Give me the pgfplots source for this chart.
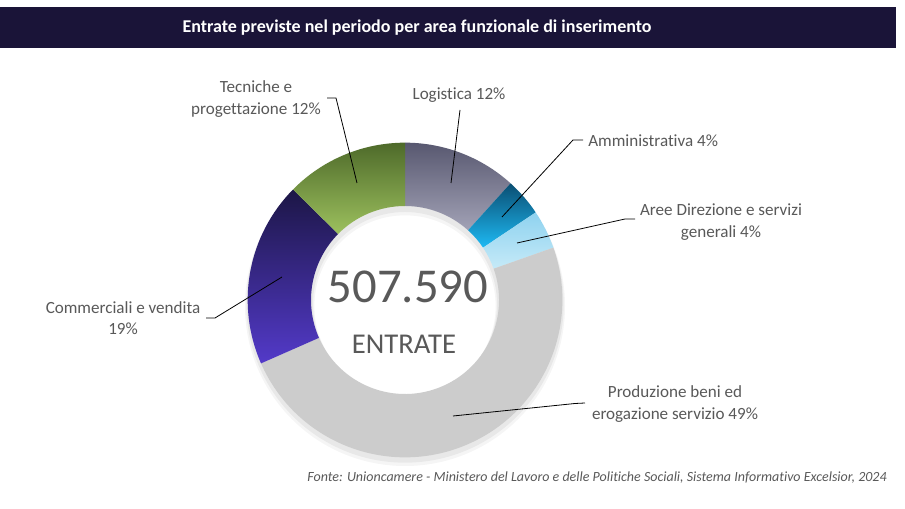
\documentclass[border=0pt]{standalone}
\usepackage{pgfplots}
\pgfplotsset{compat=1.18}
\usepackage{pgfplotstable}
\usepackage{fontspec}
\setmainfont{Carlito}[Ligatures=NoCommon]

\definecolor{titlebg}{HTML}{1A1438}
\definecolor{txt}{HTML}{595959}
\definecolor{logT}{HTML}{585870}
\definecolor{logB}{HTML}{A2A2B6}
\definecolor{ammT}{HTML}{0A4E72}
\definecolor{ammB}{HTML}{1EBAF4}
\definecolor{dirT}{HTML}{8ED2EF}
\definecolor{dirB}{HTML}{C6EAF8}
\definecolor{prod}{HTML}{CCCCCC}
\definecolor{comT}{HTML}{1C1646}
\definecolor{comB}{HTML}{533AC9}
\definecolor{tecT}{HTML}{4E6A2A}
\definecolor{tecB}{HTML}{9DC15E}

% share of each area, clockwise from 12 o'clock
\pgfplotstableread{
area value
Logistica 11.7
Amministrativa 3.9
Direzione 4.0
Produzione 48.8
Commerciali 19.0
Tecniche 12.6
}\slices

% cumulative angles (start/end of each slice)
\def\acc{90}%
\pgfplotsforeachungrouped \i in {0,...,5}{%
  \pgfplotstablegetelem{\i}{value}\of\slices%
  \pgfmathsetmacro\nxt{\acc-3.6*\pgfplotsretval}%
  \expandafter\xdef\csname sa\i\endcsname{\acc}%
  \expandafter\xdef\csname sb\i\endcsname{\nxt}%
  \xdef\acc{\nxt}%
}

\def\Ro{118pt}
\def\Ri{70.5pt}

\newcommand\ringslice[3]{% row, top colour, bottom colour
  \edef\sA{\csname sa#1\endcsname}\edef\sB{\csname sb#1\endcsname}%
  \edef\temp{\noexpand\shade[top color=#2,bottom color=#3]
    ([shift={(\sA:\Ro)}]C) arc[start angle=\sA,end angle=\sB,radius=\Ro]
    -- ([shift={(\sB:\Ri)}]C) arc[start angle=\sB,end angle=\sA,radius=\Ri] -- cycle;}%
  \temp}

\begin{document}
\begin{tikzpicture}
\begin{axis}[
    x=0.75pt, y=0.75pt,
    xmin=0, xmax=905, ymin=0, ymax=509,
    enlargelimits=false,
    hide axis, clip=false, scale only axis,
]
\coordinate (BL) at (axis cs:0,0);
\coordinate (TR) at (axis cs:905,509);
\fill[white] (axis cs:0,0) rectangle (axis cs:905,509);
% title bar
\fill[titlebg] (axis cs:0,461) rectangle (axis cs:896,502);
\node[text=white, font=\fontsize{13.5}{16}\selectfont\bfseries] at (axis cs:417,481)
  {Entrate previste nel periodo per area funzionale di inserimento};

\coordinate (C) at (axis cs:405,209);
% soft shadow
\fill[black, opacity=0.04, even odd rule] ([yshift=-4.5pt]C) circle[radius=120pt] ([yshift=-4.5pt]C) circle[radius=68pt];
\fill[black, opacity=0.05, even odd rule] ([yshift=-3pt]C) circle[radius=119pt] ([yshift=-3pt]C) circle[radius=69pt];

\ringslice{0}{logT}{logB}
\ringslice{1}{ammT}{ammB}
\ringslice{2}{dirT}{dirB}
\ringslice{3}{prod}{prod}
\ringslice{4}{comT}{comB}
\ringslice{5}{tecT}{tecB}

% centre
\node[text=txt, font=\fontsize{36.5}{40}\selectfont] at (axis cs:408,222) {507.590};
\node[text=txt, font=\fontsize{21.5}{24}\selectfont] at (axis cs:404,165) {ENTRATE};

% leader lines
\draw[black, line width=0.6pt] (axis cs:327,411) -- (axis cs:336,411) -- (axis cs:357,326);
\draw[black, line width=0.6pt] (axis cs:460,399) -- (axis cs:451,326);
\draw[black, line width=0.6pt] (axis cs:583,369) -- (axis cs:573,369) -- (axis cs:502,292);
\draw[black, line width=0.6pt] (axis cs:635,290) -- (axis cs:625,290) -- (axis cs:517,266);
\draw[black, line width=0.6pt] (axis cs:585,106) -- (axis cs:575,105.5) -- (axis cs:453,93);
\draw[black, line width=0.6pt] (axis cs:206,191) -- (axis cs:215,191) -- (axis cs:282,232);

% labels
\tikzset{lbl/.style={text=txt, font=\fontsize{12.8}{16}\selectfont, align=center, inner sep=0pt}}
\node[lbl] at (axis cs:256,410) {Tecniche e\\progettazione 12\%};
\node[lbl] at (axis cs:459,414) {Logistica 12\%};
\node[lbl, anchor=west] at (axis cs:588,368) {Amministrativa 4\%};
\node[lbl] at (axis cs:721,287) {Aree Direzione e servizi\\generali 4\%};
\node[lbl] at (axis cs:675,105) {Produzione beni ed\\erogazione servizio 49\%};
\node[lbl] at (axis cs:123,191) {Commerciali e vendita\\19\%};

% source
\node[text=txt, font=\fontsize{10.5}{12}\selectfont\itshape, anchor=east, inner sep=0pt] at (axis cs:887,31)
  {Fonte: Unioncamere - Ministero del Lavoro e delle Politiche Sociali, Sistema Informativo Excelsior, 2024};
\end{axis}
\pgfresetboundingbox
\path (BL) rectangle (TR);
\end{tikzpicture}
\end{document}
